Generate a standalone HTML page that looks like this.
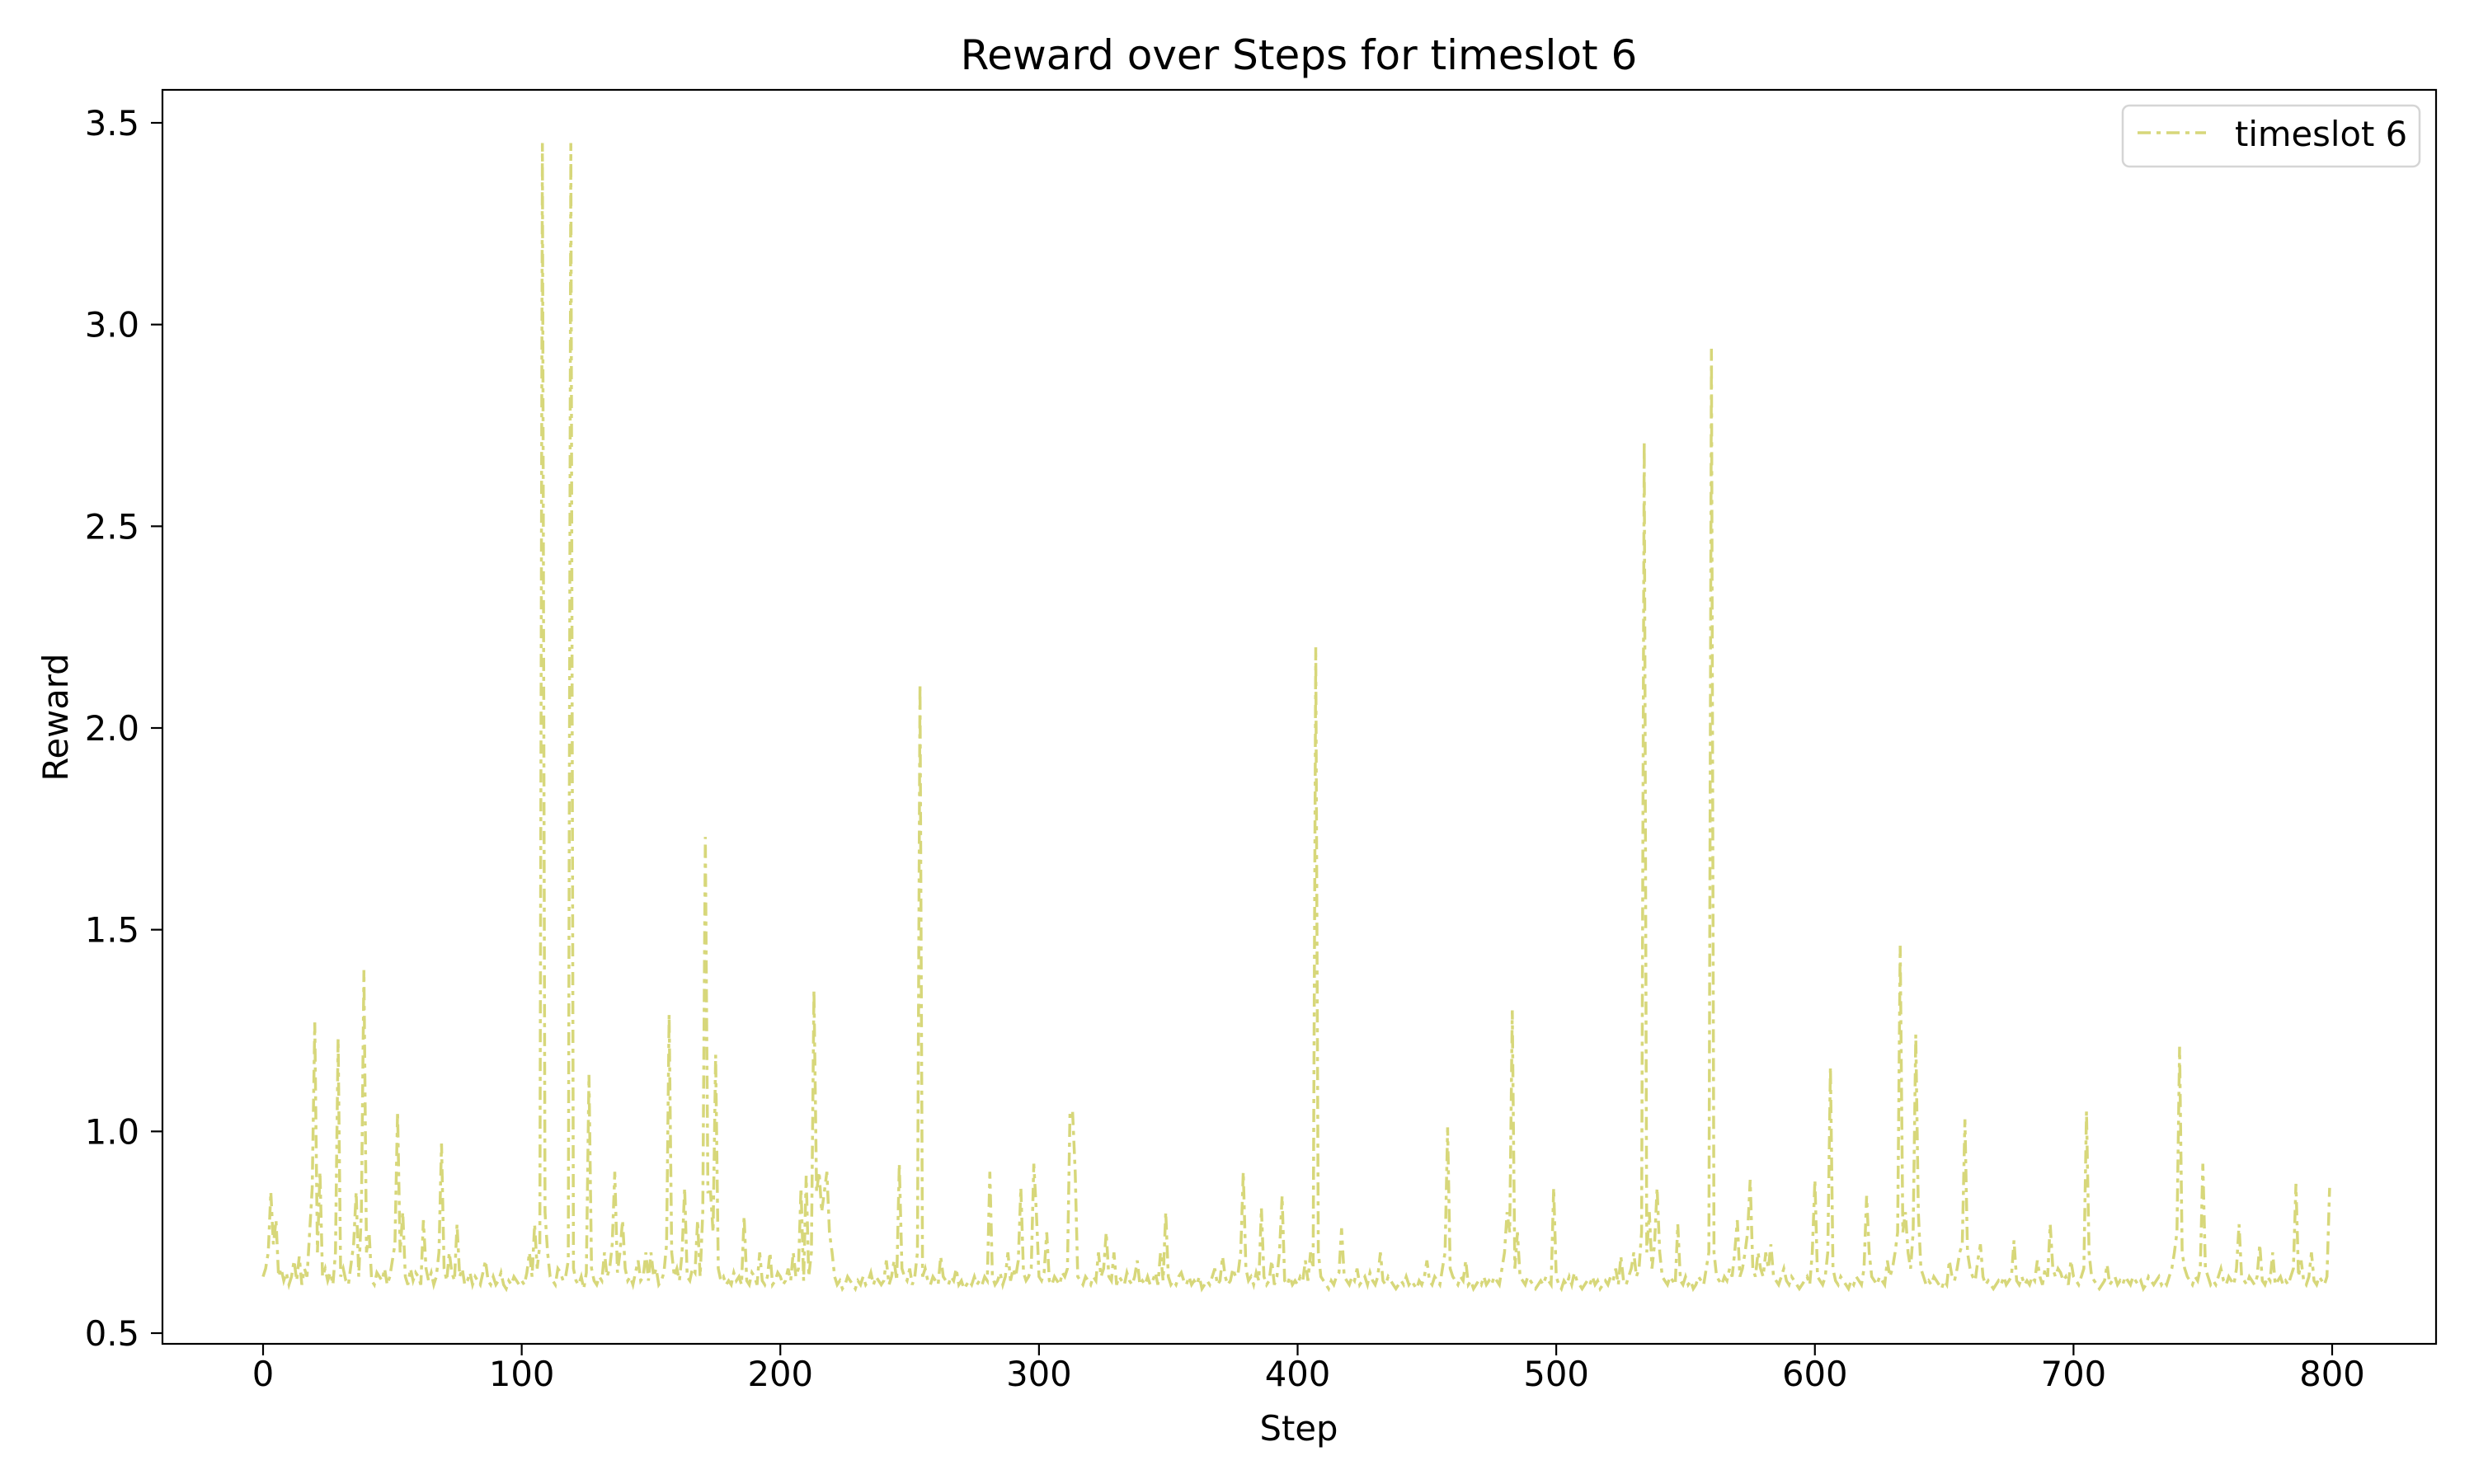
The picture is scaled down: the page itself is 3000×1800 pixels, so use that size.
<!DOCTYPE html>
<html><head><meta charset="utf-8"><style>
html,body{margin:0;padding:0;background:#fff}
svg{display:block;font-family:"DejaVu Sans","Liberation Sans",sans-serif}
</style></head><body>
<svg id="chart" width="3000" height="1800" viewBox="0 0 3000 1800">
<rect x="0" y="0" width="3000" height="1800" fill="#fff"/>
<text x="1575" y="84" text-anchor="middle" font-size="50" fill="#000">Reward over Steps for timeslot 6</text>
<text x="1575" y="1747" text-anchor="middle" font-size="41.7" fill="#000">Step</text>
<text x="0" y="0" transform="translate(82,870) rotate(-90)" text-anchor="middle" font-size="41.7" fill="#000">Reward</text>
<g id="plot"></g>
<g id="xticks"></g>
<g id="yticks"></g>
<rect x="197" y="109" width="2757" height="1521" fill="none" stroke="#000" stroke-width="2.2"/>
<g>
<rect x="2574" y="128" width="360" height="74" rx="8" fill="#fff" fill-opacity="0.8" stroke="#d5d5d5" stroke-width="2.5"/>
<line x1="2592" y1="161" x2="2675" y2="161" stroke="#bcbd22" stroke-opacity="0.6" stroke-width="3.5" stroke-dasharray="16,7,5,7"/>
<text x="2710" y="177" font-size="41.7" fill="#000">timeslot 6</text>
</g>
</svg>
<script>
const xTicks=[0,100,200,300,400,500,600,700,800];
const yTicks=[0.5,1.0,1.5,2.0,2.5,3.0,3.5];
const yTickLabels=["0.5","1.0","1.5","2.0","2.5","3.0","3.5"];
const rewards=[
0.64,0.66,0.70,0.85,0.72,0.78,0.64,0.66,0.63,0.65,0.62,0.64,0.68,0.63,0.69,0.62,0.66,0.64,0.75,0.86,
1.27,0.70,0.90,0.64,0.66,0.63,0.65,0.62,0.70,1.23,0.64,0.66,0.63,0.62,0.67,0.72,0.85,0.64,0.80,1.40,
0.70,0.75,0.63,0.62,0.65,0.64,0.63,0.66,0.62,0.64,0.68,0.72,1.05,0.70,0.80,0.64,0.62,0.66,0.63,0.65,
0.64,0.62,0.78,0.66,0.63,0.65,0.62,0.64,0.70,0.97,0.66,0.63,0.70,0.65,0.63,0.77,0.64,0.66,0.62,0.63,
0.65,0.62,0.64,0.63,0.62,0.65,0.68,0.63,0.62,0.64,0.62,0.63,0.65,0.62,0.61,0.63,0.62,0.64,0.63,0.62,
0.63,0.62,0.65,0.70,0.64,0.77,0.66,0.72,3.45,0.80,0.70,0.64,0.63,0.62,0.66,0.65,0.63,0.64,0.68,3.45,
0.66,0.63,0.62,0.64,0.61,0.65,1.14,0.66,0.63,0.62,0.64,0.63,0.70,0.64,0.66,0.72,0.90,0.65,0.70,0.78,
0.66,0.63,0.64,0.62,0.65,0.68,0.63,0.64,0.70,0.63,0.70,0.64,0.66,0.62,0.63,0.65,0.72,1.29,0.70,0.64,
0.66,0.63,0.70,0.86,0.64,0.63,0.66,0.65,0.78,0.64,0.80,1.73,0.85,0.85,0.75,1.19,0.66,0.63,0.64,0.62,
0.63,0.62,0.65,0.63,0.64,0.62,0.79,0.63,0.62,0.65,0.64,0.62,0.70,0.63,0.62,0.64,0.70,0.62,0.63,0.65,
0.64,0.62,0.63,0.66,0.63,0.70,0.64,0.66,0.86,0.63,0.89,0.64,0.70,1.35,0.85,0.90,0.80,0.85,0.90,0.75,
0.70,0.64,0.62,0.63,0.61,0.62,0.64,0.63,0.62,0.61,0.63,0.62,0.64,0.62,0.63,0.65,0.62,0.64,0.63,0.62,
0.63,0.68,0.62,0.64,0.68,0.63,0.92,0.66,0.64,0.63,0.66,0.62,0.64,0.70,2.11,0.64,0.66,0.63,0.62,0.64,
0.63,0.62,0.69,0.64,0.63,0.62,0.64,0.63,0.66,0.62,0.63,0.61,0.62,0.63,0.62,0.64,0.62,0.63,0.62,0.64,
0.63,0.90,0.64,0.62,0.63,0.65,0.62,0.64,0.70,0.63,0.66,0.64,0.68,0.86,0.65,0.63,0.64,0.66,0.92,0.80,
0.64,0.63,0.65,0.75,0.63,0.62,0.64,0.63,0.62,0.65,0.64,0.66,1.05,1.05,0.90,0.64,0.63,0.62,0.64,0.63,
0.62,0.64,0.63,0.70,0.64,0.66,0.75,0.64,0.63,0.70,0.62,0.64,0.63,0.62,0.65,0.63,0.62,0.64,0.68,0.62,
0.63,0.62,0.64,0.62,0.63,0.65,0.62,0.70,0.63,0.80,0.64,0.62,0.63,0.62,0.64,0.65,0.63,0.62,0.64,0.62,
0.63,0.62,0.64,0.61,0.62,0.63,0.62,0.64,0.66,0.62,0.63,0.69,0.64,0.62,0.63,0.66,0.64,0.65,0.70,0.90,
0.66,0.63,0.64,0.62,0.65,0.63,0.81,0.64,0.62,0.63,0.68,0.62,0.64,0.70,0.84,0.63,0.62,0.64,0.62,0.63,
0.62,0.64,0.63,0.68,0.63,0.70,0.66,2.20,0.70,0.64,0.63,0.62,0.61,0.63,0.62,0.64,0.65,0.76,0.64,0.63,
0.62,0.64,0.63,0.66,0.62,0.63,0.64,0.62,0.65,0.63,0.62,0.64,0.70,0.63,0.62,0.64,0.63,0.62,0.61,0.62,
0.63,0.62,0.64,0.62,0.63,0.62,0.61,0.63,0.62,0.64,0.68,0.63,0.62,0.64,0.63,0.62,0.66,0.70,1.01,0.66,
0.64,0.63,0.62,0.64,0.63,0.68,0.62,0.63,0.61,0.62,0.63,0.62,0.64,0.62,0.63,0.62,0.64,0.63,0.62,0.66,
0.70,0.80,0.75,1.30,0.66,0.75,0.64,0.63,0.62,0.64,0.63,0.62,0.61,0.62,0.63,0.62,0.64,0.63,0.62,0.86,
0.64,0.62,0.61,0.63,0.62,0.64,0.62,0.65,0.63,0.62,0.61,0.62,0.63,0.62,0.64,0.62,0.63,0.61,0.62,0.63,
0.62,0.64,0.63,0.66,0.62,0.69,0.63,0.62,0.64,0.66,0.70,0.64,0.66,0.75,2.71,0.70,0.80,0.66,0.72,0.86,
0.70,0.64,0.63,0.62,0.64,0.63,0.62,0.77,0.63,0.62,0.64,0.62,0.63,0.61,0.62,0.64,0.63,0.62,0.66,0.70,
2.94,0.70,0.64,0.63,0.62,0.64,0.63,0.66,0.64,0.70,0.78,0.64,0.66,0.70,0.75,0.88,0.66,0.64,0.70,0.66,
0.64,0.70,0.66,0.72,0.64,0.63,0.62,0.64,0.66,0.63,0.62,0.64,0.63,0.62,0.61,0.62,0.63,0.64,0.62,0.70,
0.88,0.64,0.63,0.62,0.64,0.70,1.16,0.66,0.63,0.62,0.64,0.63,0.62,0.61,0.63,0.62,0.64,0.63,0.62,0.66,
0.84,0.70,0.64,0.63,0.62,0.64,0.63,0.62,0.68,0.64,0.66,0.70,0.75,1.46,0.75,0.80,0.70,0.66,0.75,1.24,
0.80,0.66,0.64,0.62,0.63,0.62,0.64,0.63,0.62,0.61,0.63,0.62,0.68,0.64,0.63,0.66,0.70,0.72,1.03,0.70,
0.66,0.64,0.63,0.68,0.72,0.64,0.62,0.63,0.62,0.61,0.62,0.63,0.62,0.64,0.62,0.63,0.64,0.73,0.63,0.62,
0.64,0.62,0.63,0.62,0.64,0.63,0.68,0.64,0.62,0.66,0.64,0.77,0.66,0.64,0.66,0.65,0.63,0.64,0.62,0.68,
0.64,0.63,0.62,0.64,0.66,1.05,0.70,0.64,0.63,0.62,0.61,0.62,0.63,0.67,0.62,0.63,0.64,0.62,0.63,0.62,
0.64,0.63,0.62,0.64,0.63,0.62,0.63,0.61,0.62,0.64,0.63,0.62,0.63,0.64,0.62,0.63,0.62,0.64,0.66,0.70,
0.75,1.21,0.70,0.66,0.64,0.63,0.62,0.64,0.63,0.66,0.92,0.66,0.64,0.62,0.63,0.62,0.64,0.66,0.63,0.62,
0.64,0.63,0.62,0.66,0.77,0.64,0.63,0.62,0.64,0.63,0.62,0.64,0.72,0.63,0.62,0.64,0.63,0.70,0.62,0.63,
0.64,0.62,0.63,0.62,0.64,0.66,0.87,0.64,0.68,0.63,0.62,0.64,0.70,0.63,0.62,0.64,0.63,0.62,0.64,0.86
];
const NS='http://www.w3.org/2000/svg';
function xs(v){return 319+(v-0)*(2828-319)/800;}
function ys(v){return 1617-(v-0.5)*(1617-149)/3;}
const xg=document.getElementById('xticks');
xTicks.forEach(t=>{
  const l=document.createElementNS(NS,'line');
  l.setAttribute('x1',xs(t));l.setAttribute('x2',xs(t));
  l.setAttribute('y1',1630);l.setAttribute('y2',1644);
  l.setAttribute('stroke','#000');l.setAttribute('stroke-width','2.2');
  
  
  xg.appendChild(l);
  const tx=document.createElementNS(NS,'text');
  tx.setAttribute('x',xs(t));tx.setAttribute('y',1681);
  tx.setAttribute('text-anchor','middle');tx.setAttribute('font-size','41.7');
  tx.textContent=String(t);
  
  
  xg.appendChild(tx);
});
const yg=document.getElementById('yticks');
yTicks.forEach((t,i)=>{
  const l=document.createElementNS(NS,'line');
  l.setAttribute('x1',183);l.setAttribute('x2',197);
  l.setAttribute('y1',ys(t));l.setAttribute('y2',ys(t));
  l.setAttribute('stroke','#000');l.setAttribute('stroke-width','2.2');
  
  
  yg.appendChild(l);
  const tx=document.createElementNS(NS,'text');
  tx.setAttribute('x',169);tx.setAttribute('y',ys(t)+15);
  tx.setAttribute('text-anchor','end');tx.setAttribute('font-size','41.7');
  tx.textContent=yTickLabels[i];
  
  
  yg.appendChild(tx);
});
const pts=rewards.map((v,i)=>xs(i).toFixed(1)+','+ys(v).toFixed(1)).join(' ');
const pl=document.createElementNS(NS,'polyline');
pl.setAttribute('points',pts);
pl.setAttribute('fill','none');
pl.setAttribute('stroke','#bcbd22');
pl.setAttribute('stroke-opacity','0.6');
pl.setAttribute('stroke-width','3.5');
pl.setAttribute('stroke-dasharray','16,7,5,7');


document.getElementById('plot').appendChild(pl);
</script>
</body></html>
